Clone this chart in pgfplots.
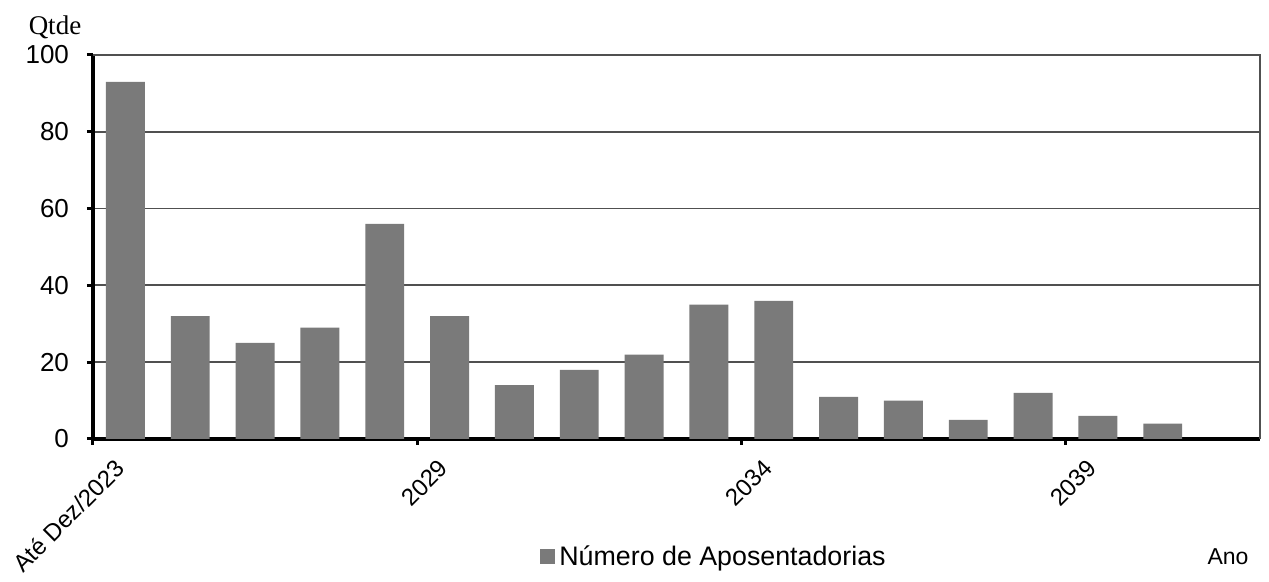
\documentclass[border=0pt]{standalone}
\usepackage{fontspec}
\setmainfont{Liberation Sans}
\newfontfamily\seriffont{Liberation Serif}
\usepackage{pgfplots}
\pgfplotsset{compat=1.18}
\definecolor{barcol}{RGB}{122,122,122}
\definecolor{gridcol}{RGB}{80,80,80}
\begin{document}
\begin{tikzpicture}
\begin{axis}[
  name=ax,
  scale only axis,
  width=583.5pt, height=192pt,
  xmin=-0.5, xmax=17.5, ymin=0, ymax=100,
  axis x line*=bottom, axis y line*=left,
  x axis line style={line width=2pt, -},
  y axis line style={line width=1.6pt, -},
  ytick={0,20,40,60,80,100},
  xtick={0,5,10,15},
  xticklabels={Até Dez/2023,2029,2034,2039},
  minor xtick={-0.5,4.5,9.5,14.5},
  major tick length=3pt,
  minor tick length=3pt,
  tick align=outside,
  tick style={line width=1.5pt, black},
  xtick style={draw=none},
  minor x tick style={draw=black, line width=1.5pt},
  ymajorgrids,
  grid style={gridcol, line width=0.9pt},
  /pgf/number format/assume math mode=true,
  yticklabel style={font=\fontsize{13}{15}\selectfont, xshift=-5.5pt},
  xticklabel style={font=\fontsize{12}{14}\selectfont, xshift=-6pt, yshift=-1.5pt, rotate=45, anchor=north east},
  legend style={at={(0.533,0)}, anchor=center, yshift=-59pt, draw=none,
    font=\fontsize{13.4}{15}\selectfont, inner sep=0pt},
  legend image code/.code={\fill[barcol] (0pt,-3.75pt) rectangle (7.5pt,3.75pt);},
  clip=false,
]
\addplot[ybar, bar width=0.6, fill=barcol, draw=none] coordinates {
(0,93) (1,32) (2,25) (3,29) (4,56) (5,32) (6,14) (7,18) (8,22)
(9,35) (10,36) (11,11) (12,10) (13,5) (14,12) (15,6) (16,4)
};
\addlegendentry{Número de Aposentadorias}
\draw[gridcol, line width=0.9pt] (rel axis cs:0,1) -- (rel axis cs:1,1) -- (rel axis cs:1,0);
\node[font=\seriffont\fontsize{13.5}{15}\selectfont] at (rel axis cs:0,1) [xshift=-19pt, yshift=14pt] {Qtde};
\node[font=\fontsize{11.5}{13}\selectfont] at (rel axis cs:1,0) [xshift=-16pt, yshift=-59pt] {Ano};
\end{axis}
\pgfresetboundingbox
\path ([xshift=-46.5pt,yshift=-71.5pt]ax.south west) rectangle ([xshift=4.5pt,yshift=27.5pt]ax.north east);
\end{tikzpicture}
\end{document}
